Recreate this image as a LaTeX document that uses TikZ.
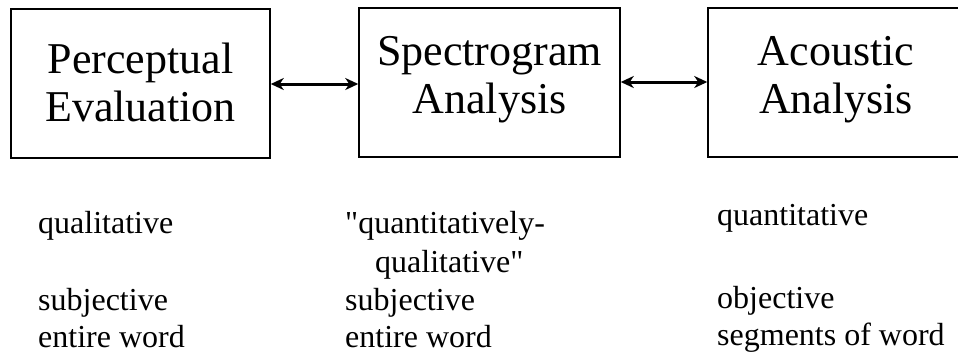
\documentclass[tikz,border=0pt]{standalone}
\usepackage{fontspec}
\setmainfont{Liberation Serif}
\usetikzlibrary{arrows.meta}
\begin{document}
\begin{tikzpicture}[x=1pt,y=-1pt,
  boxnode/.style={draw, line width=1.5pt, inner sep=0pt},
  bigtext/.style={anchor=base, inner sep=0pt, font=\fontsize{44}{48}\selectfont},
  smalltext/.style={anchor=base west, inner sep=0pt, font=\fontsize{32}{38}\selectfont},
  link/.style={line width=3pt, {Stealth[length=13pt,width=12pt,inset=4pt]}-{Stealth[length=13pt,width=12pt,inset=4pt]}}]
\useasboundingbox (0,0) rectangle (958,360);
\clip (0,0) rectangle (958,360);
% boxes
\node[boxnode, minimum width=259pt, minimum height=149pt] (b1) at (140.5,83.5) {};
\node[boxnode, minimum width=261pt, minimum height=149pt] (b2) at (489.5,82.5) {};
\node[boxnode, minimum width=264pt, minimum height=149pt] (b3) at (840,82.5) {};
% box texts
\node[bigtext] (t1a) at (140.5,73) {Perceptual};
\node[bigtext] (t1b) at (140.5,121) {Evaluation};
\node[bigtext] (t2a) at (489.5,65) {Spectrogram};
\node[bigtext] (t2b) at (489.5,113) {Analysis};
\node[bigtext] (t3a) at (836,65) {Acoustic};
\node[bigtext] (t3b) at (836,113) {Analysis};
% arrows
\draw[link] (b1.east |- 0,84) -- (b2.west |- 0,84);
\draw[link] (b2.east |- 0,82) -- (b3.west |- 0,82);
% lower texts
\node[smalltext] (c1a) at (38,233) {qualitative};
\node[smalltext] (c1b) at (38,310) {subjective};
\node[smalltext] (c1c) at (38,347) {entire word};
\node[smalltext] (c2a) at (345,233) {\textquotedbl quantitatively-};
\node[smalltext] (c2b) at (375,272) {qualitative\textquotedbl};
\node[smalltext] (c2c) at (345,310) {subjective};
\node[smalltext] (c2d) at (345,347) {entire word};
\node[smalltext] (c3a) at (717,225) {quantitative};
\node[smalltext] (c3b) at (717,308) {objective};
\node[smalltext] (c3c) at (717,345) {segments of word};
\end{tikzpicture}
\end{document}
